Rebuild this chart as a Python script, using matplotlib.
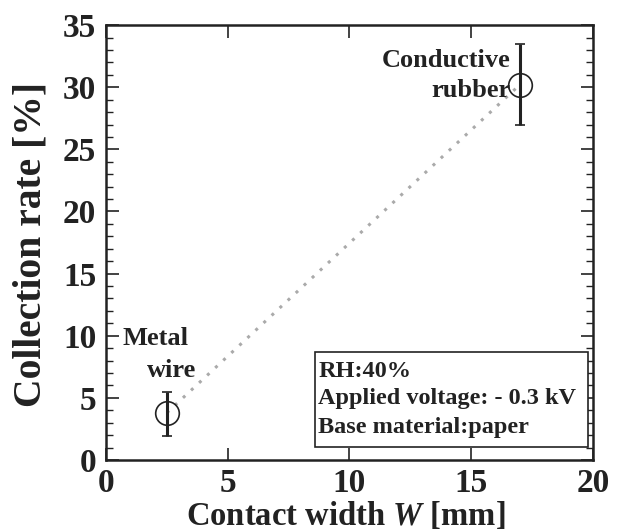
import matplotlib
matplotlib.use('Agg')
import matplotlib.pyplot as plt
from matplotlib.ticker import MultipleLocator
from matplotlib.patches import Rectangle

plt.rcParams['font.family'] = ['Liberation Serif', 'DejaVu Serif']
plt.rcParams['font.weight'] = 'bold'
plt.rcParams['axes.labelweight'] = 'bold'
plt.rcParams['mathtext.fontset'] = 'custom'
plt.rcParams['mathtext.it'] = 'Liberation Serif:italic:bold'

# datos
width = [2.5, 17.0]
rate = [3.8, 30.2]
err_low = [1.85, 3.2]
err_high = [1.7, 3.3]
names = [['Metal', 'wire'], ['Conductive', 'rubber']]
leyenda = ['RH:40%', 'Applied voltage: - 0.3 kV', 'Base material:paper']

fig = plt.figure(figsize=(6.25, 5.31), dpi=100)
ax = fig.add_axes([0.1696, 0.1337, 0.779, 0.819])

c = '#222222'
ax.plot(width, rate, linestyle=(0, (1, 2.6)), color='#aaaaaa', lw=2.2, zorder=1)
ax.errorbar(width, rate, yerr=[err_low, err_high], fmt='o', ms=17, mfc='none',
            mec=c, mew=1.2, ecolor=c, elinewidth=2.2, capsize=3.4,
            capthick=2.2, zorder=3)

# etiquetas de los puntos
ax.text(2.05, 9.25, names[0][0], ha='center', va='baseline', fontsize=19, color=c)
ax.text(2.71, 6.68, names[0][1], ha='center', va='baseline', fontsize=19, color=c)
ax.text(16.6, 31.6, names[1][0], ha='right', va='baseline', fontsize=19, color=c)
ax.text(16.6, 29.2, names[1][1], ha='right', va='baseline', fontsize=19, color=c)

# cuadro de condiciones
ax.add_patch(Rectangle((8.58, 1.05), 11.21, 7.64, fc='white', ec=c, lw=1.2, zorder=2))
for txt, yb in zip(leyenda, [6.68, 4.51, 2.17]):
    ax.text(8.72, yb, txt, ha='left', va='baseline', fontsize=17.5, color=c, zorder=4)

ax.set_xlim(0, 20)
ax.set_ylim(0, 35)
ax.xaxis.set_major_locator(MultipleLocator(5))
ax.yaxis.set_major_locator(MultipleLocator(5))
ax.yaxis.set_minor_locator(MultipleLocator(1))
ax.tick_params(which='both', direction='in', top=True, right=True, labelsize=24, colors=c)
ax.tick_params(which='major', length=9, width=1.2, pad=7)
ax.tick_params(axis='x', pad=6)
ax.tick_params(which='minor', length=5, width=1)
for s in ax.spines.values():
    s.set_linewidth(1.8)
    s.set_color(c)

ax.set_xlabel('Contact width $\\mathit{W}$ [mm]', fontsize=23.5, color=c, va='baseline')
ax.set_ylabel('Collection rate [%]', fontsize=28.5, color=c)
ax.xaxis.set_label_coords(0.493, -0.149)
ax.yaxis.set_label_coords(-0.116, 0.495)

fig.savefig('out.png', dpi=100)
